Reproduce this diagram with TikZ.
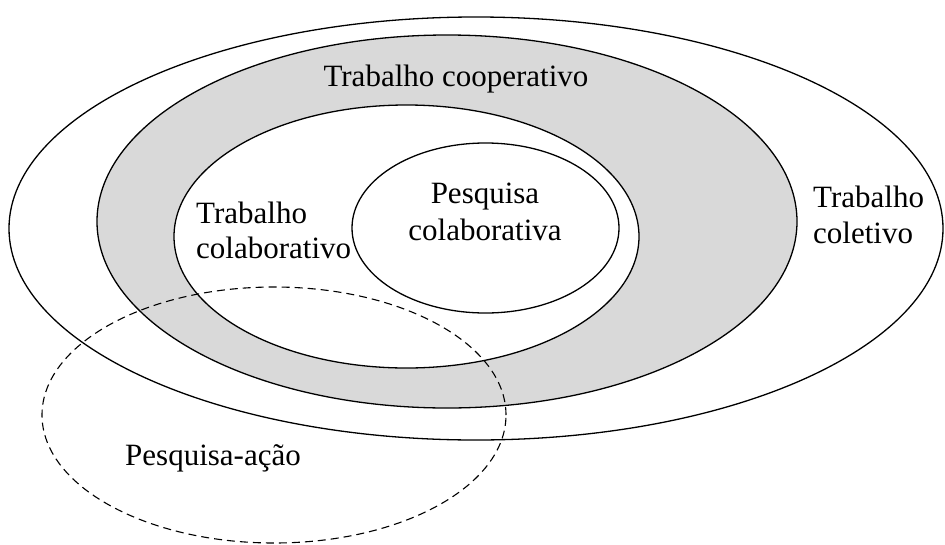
\documentclass[tikz,border=0pt]{standalone}
\usepackage{fontspec}
\setmainfont{Liberation Serif}
\begin{document}
\begin{tikzpicture}[x=1pt,y=-1pt,
  ring/.style={draw=black,line width=1.3pt},
  dashring/.style={draw=black,line width=1.1pt,dash pattern=on 8pt off 5pt},
  lbl/.style={font=\fontsize{31}{36}\selectfont,inner sep=0pt,anchor=base,align=center},
  lbll/.style={font=\fontsize{31}{36}\selectfont,inner sep=0pt,anchor=base west,align=left}]
\useasboundingbox (0,0) rectangle (945,544);
% outer ellipse: Trabalho coletivo
\draw[ring,fill=white] (476,228.5) ellipse [x radius=467pt, y radius=211.5pt];
% gray ellipse: Trabalho cooperativo
\draw[ring,fill=black!15] (447,221.5) ellipse [x radius=350pt, y radius=186.5pt];
% white ellipse: Trabalho colaborativo
\draw[ring,fill=white] (406.5,236.5) ellipse [x radius=232.5pt, y radius=131.5pt];
% inner ellipse: Pesquisa colaborativa
\draw[ring,fill=white] (485.5,228) ellipse [x radius=133.5pt, y radius=85pt];
% dashed ellipse: Pesquisa-acao
\draw[dashring] (274,415) ellipse [x radius=232pt, y radius=128pt];
% labels
\node[lbl] (coop) at (456,86) {Trabalho cooperativo};
\node[lbl] (pesq1) at (485,203) {Pesquisa};
\node[lbl] (pesq2) at (485,240) {colaborativa};
\node[lbll] (colab1) at (196,223) {Trabalho};
\node[lbll] (colab2) at (196,258) {colaborativo};
\node[lbll] (colet1) at (813,207) {Trabalho};
\node[lbll] (colet2) at (813,243) {coletivo};
\node[lbll] (acao) at (125,465) {Pesquisa-ação};
\end{tikzpicture}
\end{document}
